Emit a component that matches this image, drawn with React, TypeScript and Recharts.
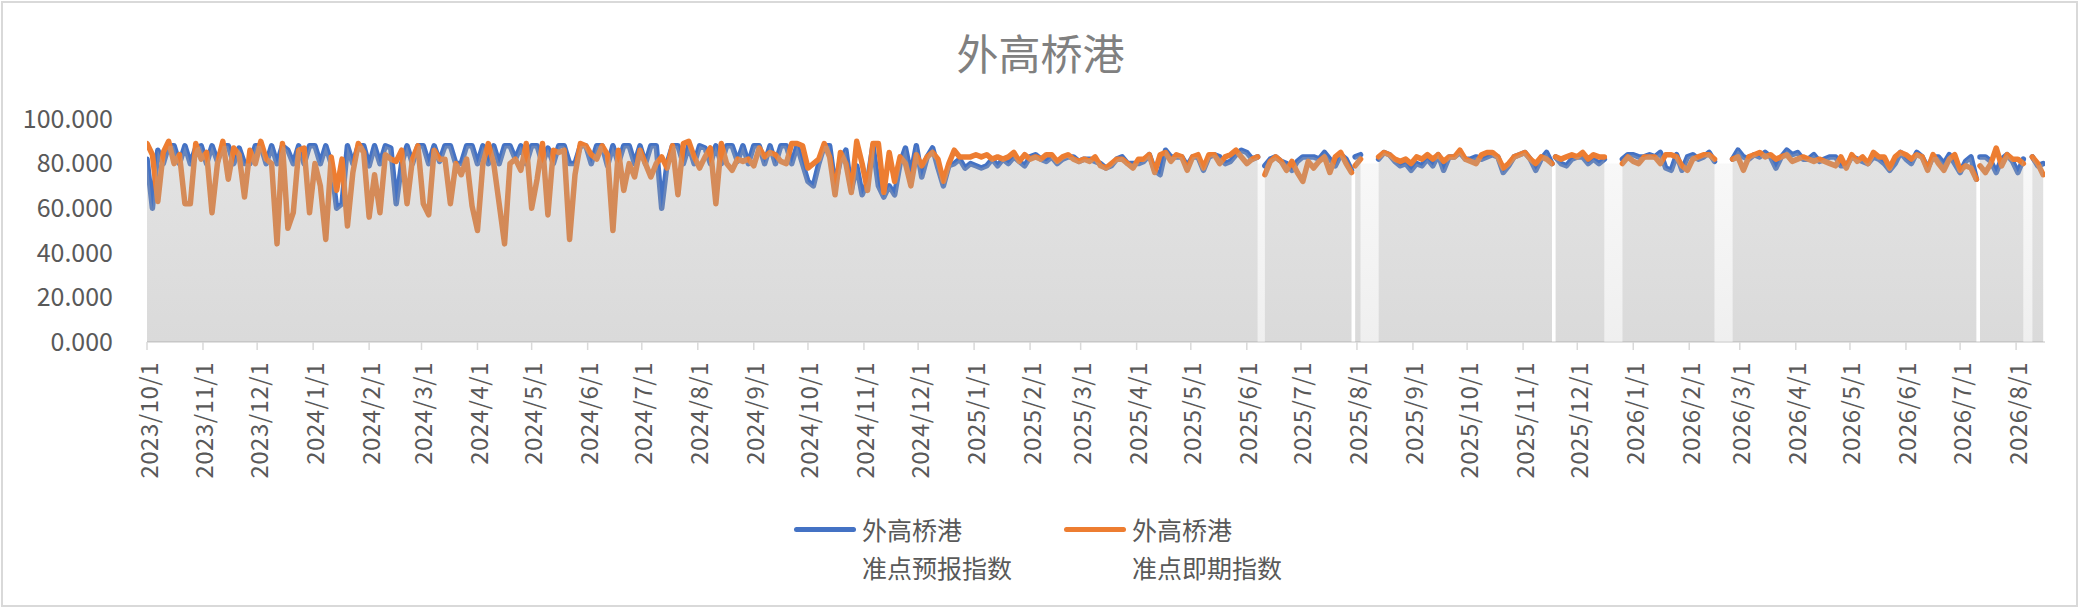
import { ComposedChart, Line, Area, XAxis, YAxis, ReferenceArea } from "recharts";

// x axis: one tick per month, labels as shown under the axis
const monthLabels = [
  "2023/10/1", "2023/11/1", "2023/12/1",
  "2024/1/1", "2024/2/1", "2024/3/1", "2024/4/1", "2024/5/1", "2024/6/1",
  "2024/7/1", "2024/8/1", "2024/9/1", "2024/10/1", "2024/11/1", "2024/12/1",
  "2025/1/1", "2025/2/1", "2025/3/1", "2025/4/1", "2025/5/1", "2025/6/1",
  "2025/7/1", "2025/8/1", "2025/9/1", "2025/10/1", "2025/11/1", "2025/12/1",
  "2026/1/1", "2026/2/1", "2026/3/1", "2026/4/1", "2026/5/1", "2026/6/1",
  "2026/7/1", "2026/8/1",
];
const yTicks = [0, 20, 40, 60, 80, 100];

// readings every 3 days; each segment is a run of days with data (days since 2023/10/1)
const STEP = 3;
const LAST_DAY = 1051;
const segmentStarts = [0, 619, 669, 682, 780, 817, 878, 1015, 1044];

// 外高桥港 准点预报指数
const forecastS1 = [
  82, 60, 86, 80, 88, 88, 80, 88, 80, 87, 88, 80, 88, 81, 88, 88, 80, 87, 80, 80,
  88, 88, 80, 88, 80, 88, 86, 80, 88, 80, 88, 88, 80, 88, 80, 60, 62, 88, 80, 88,
  88, 79, 88, 80, 88, 87, 62, 80, 88, 80, 88, 88, 80, 88, 81, 88, 88, 80, 80, 88,
  88, 80,
  88, 80, 88, 80, 88, 88, 82, 88, 80, 88, 88, 80, 87, 80, 88, 88, 80, 80, 88, 88,
  80, 88, 88, 79, 88, 80, 88, 88, 80, 88, 80, 88, 88, 60, 80, 88, 88, 80, 88, 80,
  88, 87, 80, 88, 80, 88, 88, 81, 88, 80, 88, 88, 80, 88, 80, 88, 88, 80, 88, 80,
  72, 70, 80, 88, 88, 70, 82, 86, 68, 79, 66, 72, 88, 70, 65, 70, 66, 80, 87, 75,
  88, 74, 83, 87, 78, 70, 79, 80, 82, 78, 80, 79, 78, 79, 82, 79, 82, 80, 83, 81,
  79, 83, 84, 82, 81, 83, 80, 82, 83, 83, 81, 82, 82, 81, 80, 78, 79, 82, 83, 80,
  80, 80,
  81, 84, 77, 75, 86, 83, 83, 83, 79, 83, 83, 77, 83, 84, 83, 80, 81, 84, 86, 85,
  82, 83,
];
const forecastS2 = [79, 82, 83, 81, 80, 77, 81, 83, 83, 83, 82, 85, 82, 79, 84, 82, 77];
const forecastS3 = [83, 84];
const forecastS4 = [
  82, 85, 84, 81, 79, 80, 77, 80, 79, 82, 79, 84, 77, 83, 83, 85, 82,
  82, 83, 82, 83, 84, 83, 76, 79, 83, 84, 85, 82, 77, 82, 85, 80,
];
const forecastS5 = [83, 80, 79, 82, 83, 83, 80, 82, 80, 82];
const forecastS6 = [82, 84, 84, 83, 83, 84, 83, 85, 78, 77, 84, 77, 83, 84, 82, 83, 85, 81];
const forecastS7 = [
  82, 86, 83, 82, 84, 83, 85, 83, 78, 83, 86, 84, 85,
  82, 82, 84, 81, 82, 83, 83, 79, 79, 83, 82, 81, 80, 83, 82, 80, 77, 80, 85, 82,
  80, 85, 83, 78, 83, 83, 80, 84, 80, 76, 81, 83, 73,
];
const forecastS8 = [83, 83, 81, 76, 82, 84, 81, 76, 82];
const forecastS9 = [83, 79, 80];

// 外高桥港 准点即期指数
const spotS1 = [
  89, 84, 63, 85, 90, 80, 84, 62, 62, 89, 82, 85, 58, 80, 90, 73, 87, 84, 65, 86,
  80, 90, 82, 80, 44, 89, 51, 58, 86, 87, 58, 80, 70, 46, 83, 68, 82, 52, 76, 89,
  85, 56, 75, 58, 84, 82, 81, 86, 62, 82, 88, 62, 57, 86, 82, 82, 62, 80, 75, 82,
  61, 50,
  80, 89, 80, 62, 44, 80, 82, 77, 89, 60, 73, 89, 57, 86, 85, 86, 46, 75, 89, 88,
  84, 82, 88, 84, 50, 86, 68, 80, 74, 86, 80, 74, 80, 83, 78, 88, 66, 89, 90, 83,
  78, 83, 87, 62, 89, 80, 77, 82, 81, 82, 79, 87, 83, 85, 84, 81, 80, 89, 89, 88,
  78, 80, 82, 89, 83, 66, 85, 80, 67, 90, 80, 68, 89, 89, 67, 85, 72, 83, 80, 70,
  84, 79, 83, 85, 82, 72, 80, 86, 83, 83, 83, 84, 83, 84, 82, 83, 82, 83, 85, 81,
  84, 82, 83, 82, 84, 84, 81, 83, 84, 82, 81, 82, 81, 83, 79, 78, 80, 82, 82, 80,
  78, 82,
  82, 84, 76, 84, 85, 81, 84, 83, 77, 83, 84, 78, 84, 84, 80, 83, 84, 86, 83, 80,
  82, 83,
];
const spotS2 = [75, 81, 83, 81, 77, 81, 76, 72, 81, 78, 81, 83, 76, 83, 85, 80, 76];
const spotS3 = [79, 82];
const spotS4 = [
  83, 85, 84, 82, 81, 82, 80, 83, 82, 84, 82, 84, 81, 83, 83, 86, 82,
  81, 80, 84, 85, 85, 83, 78, 80, 83, 84, 85, 82, 80, 83, 82, 80,
];
const spotS5 = [83, 82, 83, 84, 83, 85, 82, 84, 83, 83];
const spotS6 = [80, 83, 81, 80, 83, 83, 83, 80, 84, 84, 83, 79, 77, 82, 83, 84, 84, 82];
const spotS7 = [
  82, 83, 77, 83, 84, 85, 83, 84, 82, 83, 84, 81, 82,
  83, 82, 81, 82, 81, 80, 79, 83, 78, 84, 81, 83, 80, 85, 83, 83, 78, 83, 85, 84,
  82, 84, 83, 77, 84, 80, 77, 82, 84, 77, 79, 78, 73,
];
const spotS8 = [79, 76, 80, 87, 79, 84, 82, 82, 80];
const spotS9 = [83, 80, 75];

const forecastSegments = [forecastS1, forecastS2, forecastS3, forecastS4, forecastS5, forecastS6, forecastS7, forecastS8, forecastS9];
const spotSegments = [spotS1, spotS2, spotS3, spotS4, spotS5, spotS6, spotS7, spotS8, spotS9];

const BLUE = "#4472C4";
const ORANGE = "#ED7D31";
const TEXT = "#595959";
const FONT = "'Noto Sans CJK SC', 'Noto Sans', sans-serif";
const W = 2081;
const H = 609;
const MARGIN = { top: 119, right: 36, bottom: 0, left: 0 };

const dayOf = (label: string) => {
  const [y, m, d] = label.split("/").map(Number);
  return Math.round((Date.UTC(y, m - 1, d) - Date.UTC(2023, 9, 1)) / 86400000);
};
const monthDays = monthLabels.map(dayOf);

// table for recharts: a null row between segments breaks the lines and the area
const rows: { day: number; fc: number | null; sp: number | null }[] = [];
const gapBands: [number, number][] = [];
segmentStarts.forEach((start, s) => {
  if (s > 0) {
    const prevEnd = segmentStarts[s - 1] + (forecastSegments[s - 1].length - 1) * STEP;
    rows.push({ day: (prevEnd + start) / 2, fc: null, sp: null });
    if (start - prevEnd > 2) gapBands.push([prevEnd, start]);
  }
  forecastSegments[s].forEach((v, i) => {
    rows.push({ day: start + i * STEP, fc: v, sp: spotSegments[s][i] });
  });
});

const MonthTick = (props: any) => {
  const { x, y, payload } = props;
  const label = monthLabels[monthDays.indexOf(payload.value)];
  return (
    <text x={x} y={y} transform={`rotate(-90 ${x} ${y})`} textAnchor="end" dominantBaseline="central"
      fill={TEXT} fontSize={24} fontFamily={FONT} letterSpacing={0.5}>{label}</text>
  );
};

function LegendItem({ color, left, lines }: { color: string; left: number; lines: string[] }) {
  return (
    <>
      <div style={{ position: "absolute", left, top: 527, width: 62, height: 5, borderRadius: 3, background: color }} />
      <div style={{ position: "absolute", left: left + 68, top: 510, fontSize: 25, lineHeight: "38px", color: TEXT, whiteSpace: "nowrap" }}>
        {lines.map((l) => <div key={l}>{l}</div>)}
      </div>
    </>
  );
}

export default function App() {
  return (
    <div style={{ position: "fixed", left: 0, top: 0, width: W, height: H, background: "#fff", fontFamily: FONT, overflow: "hidden" }}>
      {/* base: axes, gap shading, the two lines */}
      <div style={{ position: "absolute", left: 0, top: 0 }}>
        <ComposedChart width={W} height={H} data={rows} margin={MARGIN}>
          <defs>
            <linearGradient id="gapGrad" x1="0" y1="0" x2="0" y2="1">
              <stop offset="0%" stopColor="#f8f8f8" />
              <stop offset="100%" stopColor="#efefef" />
            </linearGradient>
          </defs>
          <XAxis type="number" dataKey="day" domain={[0, LAST_DAY]} ticks={monthDays} interval={0} height={267}
            tickSize={8} tickMargin={12} axisLine={{ stroke: "#d9d9d9", strokeWidth: 1.5 }}
            tickLine={{ stroke: "#d9d9d9", strokeWidth: 1.5 }} tick={<MonthTick />} allowDataOverflow />
          <YAxis domain={[0, 100]} ticks={yTicks} width={147} axisLine={false} tickLine={false} tickSize={0} tickMargin={34}
            tick={{ fill: TEXT, fontSize: 25, fontFamily: FONT }} tickFormatter={(v: number) => v.toFixed(3)} />
          {gapBands.map(([a, b]) => (
            <ReferenceArea key={a} x1={a} x2={b} y1={0} y2={80} fill="url(#gapGrad)" fillOpacity={1} stroke="none" ifOverflow="hidden" />
          ))}
          <Line type="linear" dataKey="fc" stroke={BLUE} strokeWidth={5.5} strokeLinejoin="round" strokeLinecap="round" dot={false} activeDot={false} isAnimationActive={false} />
          <Line type="linear" dataKey="sp" stroke={ORANGE} strokeWidth={5.5} strokeLinejoin="round" strokeLinecap="round" dot={false} activeDot={false} isAnimationActive={false} />
        </ComposedChart>
      </div>

      {/* overlay: translucent grey area over the lines, same scales */}
      <div style={{ position: "absolute", left: 0, top: 0, pointerEvents: "none" }}>
        <ComposedChart width={W} height={H} data={rows} margin={MARGIN}>
          <defs>
            <linearGradient id="areaGrad" x1="0" y1="0" x2="0" y2="1">
              <stop offset="0%" stopColor="rgb(172,172,172)" stopOpacity={0.34} />
              <stop offset="100%" stopColor="rgb(146,146,146)" stopOpacity={0.34} />
            </linearGradient>
          </defs>
          <XAxis type="number" dataKey="day" domain={[0, LAST_DAY]} height={267} axisLine={false} tickLine={false} tick={false} allowDataOverflow />
          <YAxis domain={[0, 100]} width={147} axisLine={false} tickLine={false} tick={false} />
          <Area type="linear" dataKey="fc" stroke="none" fill="url(#areaGrad)" fillOpacity={1} activeDot={false} isAnimationActive={false} />
        </ComposedChart>
      </div>

      <div style={{ position: "absolute", left: 0, top: 31, width: W, textAlign: "center", fontSize: 42, lineHeight: "42px", color: "#808080" }}>外高桥港</div>

      <LegendItem color={BLUE} left={794} lines={["外高桥港", "准点预报指数"]} />
      <LegendItem color={ORANGE} left={1064} lines={["外高桥港", "准点即期指数"]} />

      <div style={{ position: "absolute", left: 1, top: 1, width: 2077, height: 606, border: "2px solid #d9d9d9", boxSizing: "border-box", pointerEvents: "none" }} />
    </div>
  );
}
